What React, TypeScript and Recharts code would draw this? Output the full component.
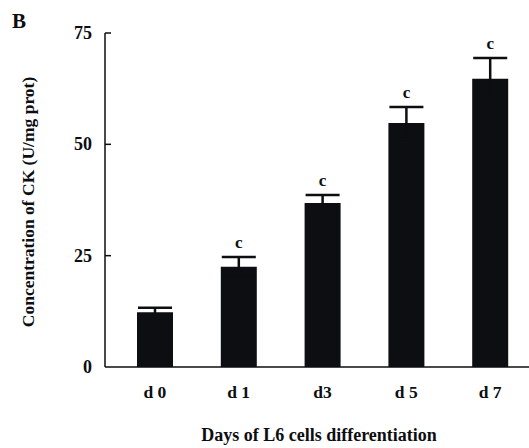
import { BarChart, Bar, XAxis, YAxis, ErrorBar, LabelList, Label } from "recharts";

const days = ["d 0", "d 1", "d3", "d 5", "d 7"];
const ckMeans = [12.3, 22.5, 36.8, 54.8, 64.7];
const ckErrors = [1.0, 2.2, 1.8, 3.6, 4.7];
const marks = ["", "c", "c", "c", "c"];
const yTicks = [0, 25, 50, 75];

const data = days.map((day, i) => ({
  day,
  ck: ckMeans[i],
  err: ckErrors[i],
  sig: marks[i],
}));

const FONT = "'Liberation Serif', 'Times New Roman', serif";
const INK = "#0d0e12";

function YTick(props: any) {
  const { x, y, payload } = props;
  return (
    <g>
      {payload.value !== 0 && (
        <line x1={x} y1={y} x2={x + 6} y2={y} stroke={INK} strokeWidth={1.5} />
      )}
      <text
        x={x - 13}
        y={y}
        textAnchor="end"
        dominantBaseline="central"
        fontFamily={FONT}
        fontWeight="bold"
        fontSize={18}
        fill={INK}
      >
        {payload.value}
      </text>
    </g>
  );
}

function SigLabel(props: any) {
  const { x, y, width, height, value, index } = props;
  if (!value) return null;
  const row = data[index];
  const errPx = (row.err * height) / row.ck;
  return (
    <text
      x={x + width / 2}
      y={y - errPx - 9}
      textAnchor="middle"
      fontFamily={FONT}
      fontWeight="bold"
      fontSize={17}
      fill={INK}
    >
      {value}
    </text>
  );
}

export default function App() {
  return (
    <div
      style={{
        position: "absolute",
        left: 0,
        top: 0,
        width: 529,
        height: 448,
        overflow: "hidden",
        background: "#fff",
      }}
    >
      <BarChart
        width={532}
        height={448}
        data={data}
        margin={{ top: 33, right: 0, bottom: 0, left: 0 }}
        barSize={36}
      >
        <XAxis
          dataKey="day"
          height={81}
          padding={{ left: 8, right: 0 }}
          axisLine={{ stroke: INK, strokeWidth: 1.5 }}
          tickLine={false}
          tickSize={0}
          tickMargin={19}
          tick={{ fontFamily: FONT, fontWeight: "bold", fontSize: 17.5, fill: INK }}
        >
          <Label
            content={() => (
              <text
                x={319}
                y={441}
                textAnchor="middle"
                fontFamily={FONT}
                fontWeight="bold"
                fontSize={18}
                fill={INK}
              >
                Days of L6 cells differentiation
              </text>
            )}
          />
        </XAxis>
        <YAxis
          width={105}
          domain={[0, 75]}
          ticks={yTicks}
          interval={0}
          axisLine={{ stroke: INK, strokeWidth: 1.5 }}
          tickLine={false}
          tickSize={0}
          tickMargin={0}
          tick={<YTick />}
        >
          <Label
            content={() => (
              <g>
                <text
                  x={28}
                  y={202}
                  transform="rotate(-90 28 202)"
                  textAnchor="middle"
                  dominantBaseline="central"
                  fontFamily={FONT}
                  fontWeight="bold"
                  fontSize={17.5}
                  fill={INK}
                >
                  Concentration of CK (U/mg prot)
                </text>
                <text
                  x={12}
                  y={28}
                  fontFamily={FONT}
                  fontWeight="bold"
                  fontSize={21}
                  fill={INK}
                >
                  B
                </text>
              </g>
            )}
          />
        </YAxis>
        <Bar dataKey="ck" fill={INK} isAnimationActive={false}>
          <ErrorBar
            dataKey="err"
            direction="y"
            width={17}
            stroke={INK}
            strokeWidth={2.5}
            isAnimationActive={false}
          />
          <LabelList dataKey="sig" content={<SigLabel />} />
        </Bar>
      </BarChart>
    </div>
  );
}
